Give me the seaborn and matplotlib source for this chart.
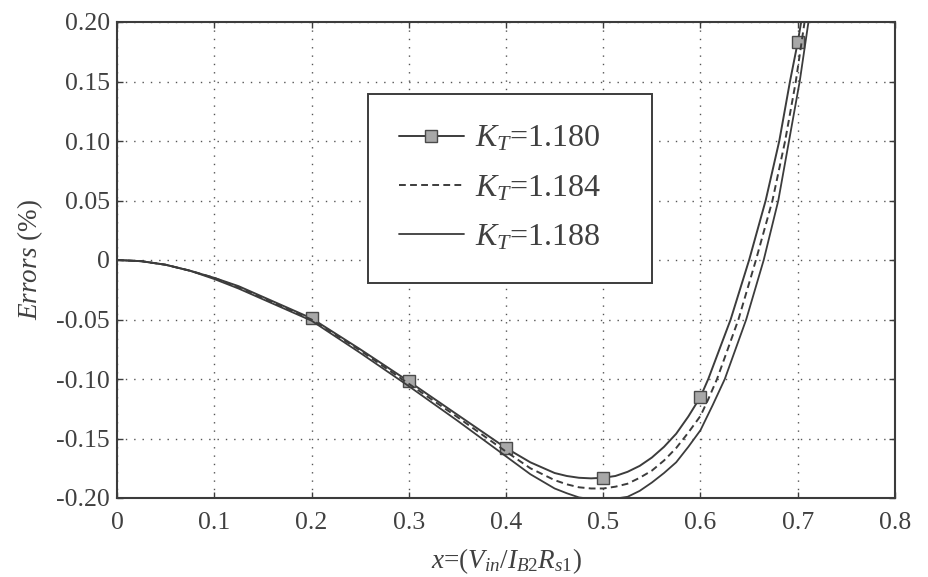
import matplotlib
matplotlib.use("Agg")
import matplotlib.pyplot as plt
import seaborn as sns
import pandas as pd

# Error curves for three values of K_T
x_kt1180 = [0, 0.025, 0.05, 0.075, 0.1, 0.125, 0.15, 0.175, 0.2, 0.25, 0.3, 0.35, 0.4, 0.425, 0.45,
            0.4625, 0.475, 0.4875, 0.5, 0.5125, 0.525, 0.5375, 0.55, 0.5625, 0.575, 0.5875, 0.6,
            0.608, 0.631, 0.65, 0.667, 0.681, 0.692, 0.7, 0.7035, 0.705]
y_kt1180 = [0, -0.001, -0.004, -0.009, -0.015, -0.022, -0.031, -0.040, -0.049, -0.075, -0.102, -0.130,
            -0.158, -0.170, -0.179, -0.1815, -0.183, -0.1835, -0.183, -0.1815, -0.178, -0.173, -0.166,
            -0.157, -0.146, -0.1315, -0.115, -0.100, -0.050, 0.000, 0.050, 0.100, 0.150, 0.183, 0.200, 0.21]

x_kt1184 = [0, 0.025, 0.05, 0.075, 0.1, 0.125, 0.15, 0.175, 0.2, 0.25, 0.3, 0.35, 0.4, 0.425, 0.45,
            0.4625, 0.475, 0.4875, 0.5, 0.5125, 0.525, 0.5375, 0.55, 0.5625, 0.575, 0.5875, 0.6,
            0.608, 0.617, 0.639, 0.657, 0.674, 0.687, 0.698, 0.707, 0.709]
y_kt1184 = [0, -0.001, -0.004, -0.009, -0.015, -0.023, -0.032, -0.041, -0.050, -0.076, -0.104, -0.132,
            -0.161, -0.175, -0.185, -0.1885, -0.191, -0.192, -0.192, -0.1905, -0.188, -0.183, -0.177,
            -0.1685, -0.158, -0.145, -0.131, -0.117, -0.100, -0.050, 0.000, 0.050, 0.100, 0.150, 0.200, 0.21]

x_kt1188 = [0, 0.025, 0.05, 0.075, 0.1, 0.125, 0.15, 0.175, 0.2, 0.25, 0.3, 0.35, 0.4, 0.425, 0.45,
            0.4625, 0.475, 0.4875, 0.5, 0.5125, 0.525, 0.5375, 0.55, 0.5625, 0.575, 0.5875, 0.6,
            0.6125, 0.625, 0.647, 0.665, 0.680, 0.691, 0.702, 0.711, 0.713]
y_kt1188 = [0, -0.001, -0.004, -0.009, -0.016, -0.024, -0.033, -0.042, -0.051, -0.078, -0.106, -0.135,
            -0.165, -0.180, -0.192, -0.196, -0.1995, -0.2008, -0.201, -0.2005, -0.199, -0.194, -0.187,
            -0.179, -0.170, -0.157, -0.143, -0.122, -0.100, -0.050, 0.000, 0.050, 0.100, 0.150, 0.200, 0.21]

series_labels = [r"$K_T$=1.180", r"$K_T$=1.184", r"$K_T$=1.188"]
marker_x = [0.2, 0.3, 0.4, 0.5, 0.6, 0.7]

x_ticks = [0, 0.1, 0.2, 0.3, 0.4, 0.5, 0.6, 0.7, 0.8]
x_ticklabels = ["0", "0.1", "0.2", "0.3", "0.4", "0.5", "0.6", "0.7", "0.8"]
y_ticks = [-0.20, -0.15, -0.10, -0.05, 0, 0.05, 0.10, 0.15, 0.20]
y_ticklabels = ["-0.20", "-0.15", "-0.10", "-0.05", "0", "0.05", "0.10", "0.15", "0.20"]

sns.set_theme(style="white")
plt.rcParams["font.family"] = ["Liberation Serif", "DejaVu Serif"]
plt.rcParams["mathtext.fontset"] = "custom"
plt.rcParams["mathtext.rm"] = "Liberation Serif"
plt.rcParams["mathtext.it"] = "Liberation Serif:italic"
plt.rcParams["mathtext.bf"] = "Liberation Serif:bold"

ink = "#3c3c3c"

fig = plt.figure(figsize=(9.29, 5.77), dpi=100)
ax = fig.add_axes([117 / 929, 1 - 498 / 577, 778 / 929, 476 / 577])

df1 = pd.DataFrame({"x": x_kt1180, "y": y_kt1180})
df2 = pd.DataFrame({"x": x_kt1184, "y": y_kt1184})
df3 = pd.DataFrame({"x": x_kt1188, "y": y_kt1188})

mark_idx = [x_kt1180.index(v) for v in marker_x]

sns.lineplot(data=df1, x="x", y="y", ax=ax, color=ink, lw=1.4, label=series_labels[0],
             marker="s", markersize=8.5, markerfacecolor="#a8a8a8", markeredgecolor="#4a4a4a",
             markeredgewidth=1.0, markevery=mark_idx, sort=False, estimator=None)
sns.lineplot(data=df2, x="x", y="y", ax=ax, color=ink, lw=1.4, label=series_labels[1],
             sort=False, estimator=None, dashes=False)
ax.lines[-1].set_dashes((3.5, 2.2))
sns.lineplot(data=df3, x="x", y="y", ax=ax, color=ink, lw=1.3, label=series_labels[2],
             sort=False, estimator=None)

ax.set_xlim(0, 0.8)
ax.set_ylim(-0.2, 0.2)
ax.set_xticks(x_ticks)
ax.set_xticklabels(x_ticklabels)
ax.set_yticks(y_ticks)
ax.set_yticklabels(y_ticklabels)

ax.grid(True, linestyle=(0, (1, 5)), color="#555555", linewidth=1.0)
ax.tick_params(direction="in", length=4, width=1.0, colors=ink, labelsize=18.5,
               top=True, right=True, left=True, bottom=True)
ax.tick_params(axis="x", pad=10)
ax.tick_params(axis="y", pad=5)
for lab in ax.get_xticklabels() + ax.get_yticklabels():
    lab.set_color("#404040")
for sp in ax.spines.values():
    sp.set_color(ink)
    sp.set_linewidth(1.5)
    sp.set_visible(True)

ax.set_xlabel(r"$x$=($V_{in}$/$I_{B2}R_{s1}$)", fontsize=19.5, color="#404040", labelpad=9)
ax.set_ylabel(r"$Errors$ (%)", fontsize=19.5, color="#404040", labelpad=8)

leg = ax.legend(loc="upper left", bbox_to_anchor=(0.323, 0.849, 0.365, 0.0), mode="expand",
                fontsize=23, numpoints=1, handlelength=2.05, handletextpad=0.35,
                borderpad=0.95, labelspacing=0.62, fancybox=False, framealpha=1.0,
                edgecolor=ink, borderaxespad=0.0)
leg.get_frame().set_linewidth(1.4)
for t in leg.get_texts():
    t.set_color("#404040")

fig.savefig("out.png", dpi=100, facecolor="white")
